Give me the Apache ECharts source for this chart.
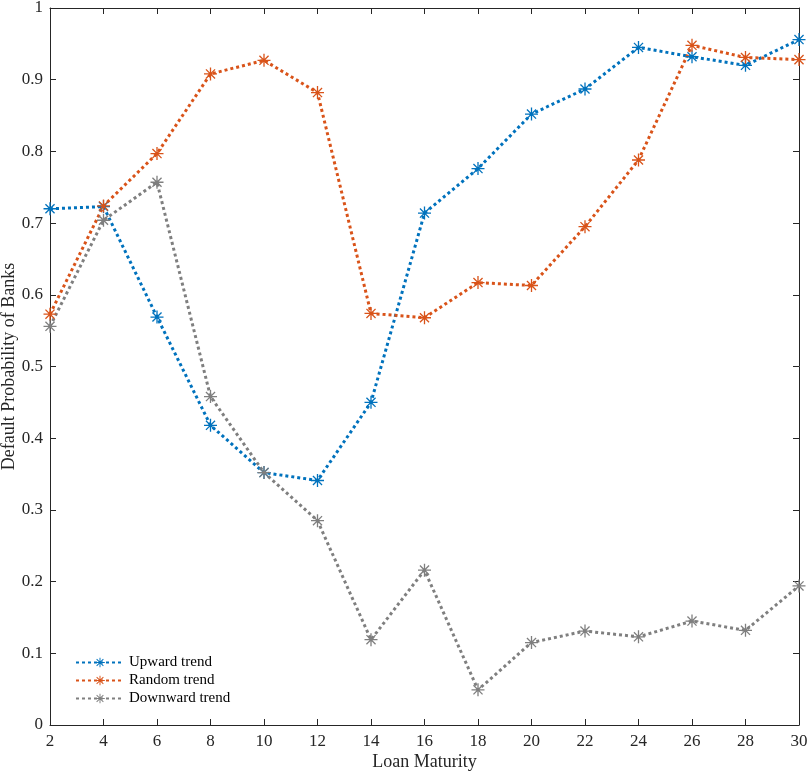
<!DOCTYPE html>
<html>
<head>
<meta charset="utf-8">
<script src="https://cdn.jsdelivr.net/npm/echarts@6/dist/echarts.min.js"></script>
<style>html,body{margin:0;padding:0;background:#fff}#c{width:809px;height:774px}</style>
</head>
<body>
<div id="c"></div>
<script>
const maturities = [2,4,6,8,10,12,14,16,18,20,22,24,26,28,30];
const upwardTrend = [0.720,0.723,0.569,0.418,0.352,0.341,0.450,0.714,0.776,0.852,0.887,0.945,0.932,0.920,0.956];
const randomTrend = [0.573,0.724,0.797,0.908,0.927,0.882,0.574,0.568,0.617,0.613,0.695,0.788,0.948,0.931,0.928];
const downwardTrend = [0.556,0.704,0.757,0.458,0.352,0.285,0.119,0.216,0.049,0.115,0.131,0.123,0.145,0.132,0.194];
const seriesNames = ['Upward trend','Random trend','Downward trend'];
const seriesColors = ['#0072BD','#D95319','#7F7F7F'];

const star = 'path://M-1,-10L1,-10L1,10L-1,10Z M-10,-1L10,-1L10,1L-10,1Z M-6.3,-7.7L7.7,6.3L6.3,7.7L-7.7,-6.3Z M7.7,-6.3L-6.3,7.7L-7.7,6.3L6.3,-7.7Z';
const font = '"Liberation Serif", "Times New Roman", serif';
const axisLineStyle = {color:'#262626', width:1};

function mk(name, vals, color){
  return {
    name, type:'line', data: maturities.map((m,i)=>[m, vals[i]]),
    symbol: star, symbolSize: 13, showSymbol:true,
    itemStyle:{color},
    lineStyle:{color, width:3, type:[3,3], cap:'butt'},
    emphasis:{disabled:true}, animation:false, z:2
  };
}

const chart = echarts.init(document.getElementById('c'), null, {renderer:'canvas'});
chart.setOption({
  backgroundColor:'#fff',
  animation:false,
  grid:{left:50, right:10, top:8, bottom:49, containLabel:false, outerBoundsMode:'none'},
  legend:{
    orient:'vertical', left:70, top:650, itemGap:3, itemWidth:48, itemHeight:12,
    data: seriesNames,
    textStyle:{fontFamily:font, fontSize:15, color:'#000'},
    backgroundColor:'transparent'
  },
  xAxis:[{
    type:'value', min:2, max:30, interval:2,
    name:'Loan Maturity', nameLocation:'middle', nameGap:28, nameMoveOverlap:false,
    nameTextStyle:{fontFamily:font, fontSize:18, color:'#262626'},
    axisLine:{show:true, onZero:false, lineStyle:axisLineStyle},
    axisTick:{show:true, inside:true, length:6, lineStyle:axisLineStyle},
    axisLabel:{fontFamily:font, fontSize:17, color:'#262626', margin:8},
    splitLine:{show:false}
  },{
    type:'value', min:2, max:30, interval:2, position:'top',
    axisLine:{show:true, onZero:false, lineStyle:axisLineStyle},
    axisTick:{show:true, inside:true, length:6, lineStyle:axisLineStyle},
    axisLabel:{show:false}, splitLine:{show:false}
  }],
  yAxis:[{
    type:'value', min:0, max:1, interval:0.1,
    name:'Default Probability of Banks', nameLocation:'middle', nameGap:32, nameMoveOverlap:false,
    nameTextStyle:{fontFamily:font, fontSize:18, color:'#262626'},
    axisLine:{show:true, onZero:false, lineStyle:axisLineStyle},
    axisTick:{show:true, inside:true, length:6, lineStyle:axisLineStyle},
    axisLabel:{fontFamily:font, fontSize:17, color:'#262626', margin:7},
    splitLine:{show:false}
  },{
    type:'value', min:0, max:1, interval:0.1, position:'right',
    axisLine:{show:true, onZero:false, lineStyle:axisLineStyle},
    axisTick:{show:true, inside:true, length:6, lineStyle:axisLineStyle},
    axisLabel:{show:false}, splitLine:{show:false}
  }],
  series:[
    mk(seriesNames[0], upwardTrend, seriesColors[0]),
    mk(seriesNames[1], randomTrend, seriesColors[1]),
    mk(seriesNames[2], downwardTrend, seriesColors[2])
  ]
});
</script>
</body>
</html>
